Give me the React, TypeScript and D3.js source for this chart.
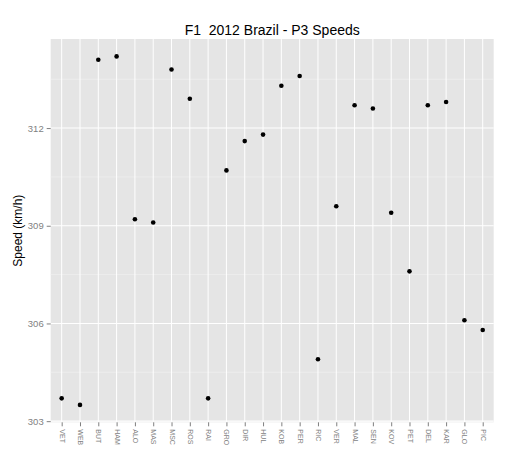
import React, { useEffect, useRef } from "react";
import * as d3 from "d3";

const drivers = [
    "VET", "WEB", "BUT", "HAM", "ALO", "MAS", "MSC", "ROS", "RAI", "GRO", "DIR", "HUL",
    "KOB", "PER", "RIC", "VER", "MAL", "SEN", "KOV", "PET", "DEL", "KAR", "GLO", "PIC",
];
const speeds = [
    303.7, 303.5, 314.1, 314.2, 309.2, 309.1, 313.8, 312.9, 303.7, 310.7, 311.6, 311.8,
    313.3, 313.6, 304.9, 309.6, 312.7, 312.6, 309.4, 307.6, 312.7, 312.8, 306.1, 305.8,
];
const yTicks = [303, 306, 309, 312];
const yMinor = [304.5, 307.5, 310.5, 313.5];

const title = "F1  2012 Brazil - P3 Speeds";
const yLabel = "Speed (km/h)";

const App: React.FC = () => {
    const svgRef = useRef<SVGSVGElement>(null);

    useEffect(() => {
        if (!svgRef.current) return;
        const width = 513;
        const height = 456;
        const marginTop = 39;
        const marginRight = 19.3;
        const marginBottom = 33.7;
        const marginLeft = 50.7;
        const font = "'Liberation Sans', Arial, sans-serif";

        const data = drivers.map((d, i) => ({ driver: d, speed: speeds[i] }));

        const x = d3.scalePoint<string>()
            .domain(drivers)
            .range([marginLeft, width - marginRight])
            .padding(0.6);

        const [lo, hi] = d3.extent(speeds) as [number, number];
        const pad = (hi - lo) * 0.05;
        const y = d3.scaleLinear()
            .domain([lo - pad, hi + pad])
            .range([height - marginBottom, marginTop]);

        const svg = d3.select(svgRef.current)
            .attr("viewBox", [0, 0, width, height])
            .attr("width", width)
            .attr("height", height);

        svg.selectAll("*").remove();

        svg.append("rect")
            .attr("width", width)
            .attr("height", height)
            .attr("fill", "white");

        // panel
        svg.append("rect")
            .attr("x", marginLeft)
            .attr("y", marginTop)
            .attr("width", width - marginLeft - marginRight)
            .attr("height", height - marginTop - marginBottom)
            .attr("fill", "#e5e5e5");

        // minor grid
        svg.append("g")
            .selectAll("line")
            .data(yMinor)
            .join("line")
            .attr("x1", marginLeft)
            .attr("x2", width - marginRight)
            .attr("y1", (d) => y(d))
            .attr("y2", (d) => y(d))
            .attr("stroke", "#f2f2f2")
            .attr("stroke-width", 0.6);

        // major grid
        svg.append("g")
            .selectAll("line")
            .data(yTicks)
            .join("line")
            .attr("x1", marginLeft)
            .attr("x2", width - marginRight)
            .attr("y1", (d) => y(d))
            .attr("y2", (d) => y(d))
            .attr("stroke", "white")
            .attr("stroke-width", 1.1);

        svg.append("g")
            .selectAll("line")
            .data(drivers)
            .join("line")
            .attr("x1", (d) => x(d)!)
            .attr("x2", (d) => x(d)!)
            .attr("y1", marginTop)
            .attr("y2", height - marginBottom)
            .attr("stroke", "white")
            .attr("stroke-width", 1);

        // x axis
        const xAxis = svg.append("g")
            .attr("transform", `translate(0,${height - marginBottom})`)
            .call(d3.axisBottom(x).tickSize(4).tickPadding(3));
        xAxis.select(".domain").remove();
        xAxis.selectAll(".tick line").attr("stroke", "#7f7f7f");
        xAxis.selectAll(".tick text")
            .attr("transform", "rotate(90)")
            .attr("x", 7)
            .attr("y", 0)
            .attr("dy", "0.35em")
            .style("text-anchor", "start")
            .attr("fill", "#7f7f7f")
            .style("font-family", font)
            .style("font-size", "7px");

        // y axis
        const yAxis = svg.append("g")
            .attr("transform", `translate(${marginLeft},0)`)
            .call(d3.axisLeft(y).tickValues(yTicks).tickSize(4).tickPadding(3));
        yAxis.select(".domain").remove();
        yAxis.selectAll(".tick line").attr("stroke", "#7f7f7f");
        yAxis.selectAll(".tick text")
            .attr("fill", "#7f7f7f")
            .style("font-family", font)
            .style("font-size", "9.5px");

        // points
        svg.append("g")
            .selectAll("circle")
            .data(data)
            .join("circle")
            .attr("cx", (d) => x(d.driver)!)
            .attr("cy", (d) => y(d.speed))
            .attr("r", 2.3)
            .attr("fill", "black");

        svg.append("text")
            .attr("x", (marginLeft + width - marginRight) / 2)
            .attr("y", 35)
            .attr("text-anchor", "middle")
            .style("font-family", font)
            .style("font-size", "14px")
            .style("white-space", "pre")
            .attr("fill", "black")
            .text(title);

        svg.append("text")
            .attr("transform", `translate(22,${(marginTop + height - marginBottom) / 2}) rotate(-90)`)
            .attr("text-anchor", "middle")
            .style("font-family", font)
            .style("font-size", "12px")
            .attr("fill", "black")
            .text(yLabel);
    }, []);

    return (
        <svg
            ref={svgRef}
            style={{ position: "absolute", left: 0, top: 0, display: "block" }}
        />
    );
};

export default App;
